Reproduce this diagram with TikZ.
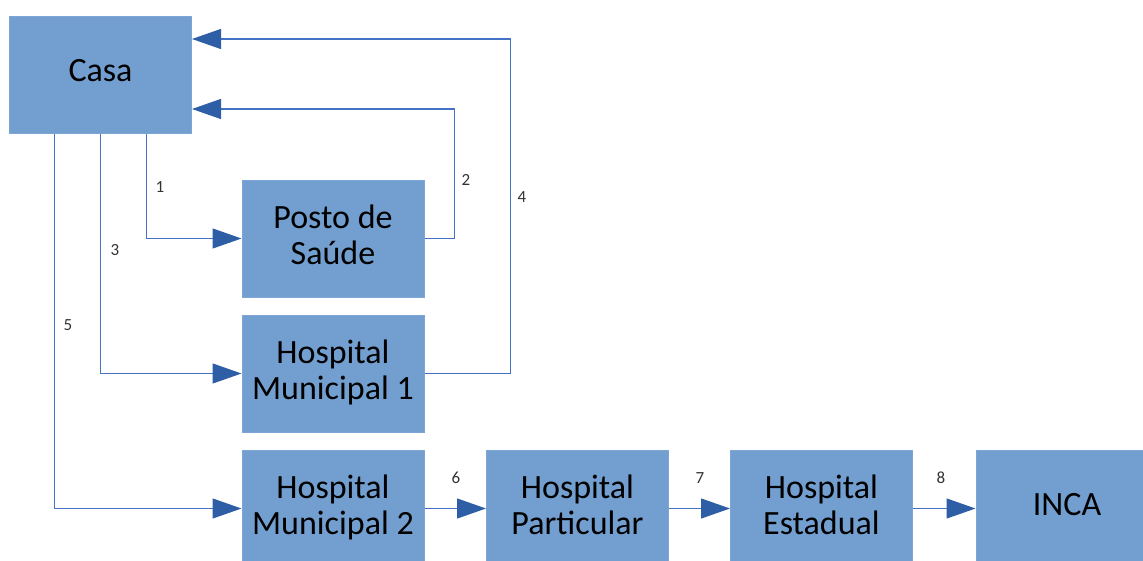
\documentclass[tikz,border=0pt]{standalone}
\usepackage{fontspec}
\setmainfont{Carlito}
\usetikzlibrary{arrows.meta}

\definecolor{boxblue}{RGB}{114,159,207}
\definecolor{edgeblue}{RGB}{125,165,214}
\definecolor{lineblue}{RGB}{68,114,196}
\definecolor{tipblue}{RGB}{46,94,166}

\tikzset{
	place/.style={rectangle, fill=boxblue, draw=edgeblue, line width=1pt,
		minimum width=182pt, minimum height=117pt, inner sep=0pt,
		align=center, font=\fontsize{34}{36}\selectfont,
		text height=13pt, text depth=0pt},
	twoline/.style={text height=51pt, text depth=0pt},
	conn/.style={draw=lineblue, line width=1.2pt,
		-{Triangle[length=29pt,width=20pt,color=tipblue]}},
	num/.style={font=\fontsize{17}{17}\selectfont, text=black!80}
}

\begin{document}
\begin{tikzpicture}[x=1pt,y=-1pt]
		\useasboundingbox (0,0) rectangle (1143,560);

		\node[place] (casa) at (100.5, 74.5) {Casa};
		\node[place, twoline] (posto) at (333, 238.5) {Posto de\\Saúde};
		\node[place, twoline] (hm1) at (333, 373.5) {Hospital\\Municipal 1};
		\node[place, twoline] (hm2) at (333, 508.5) {Hospital\\Municipal 2};
		\node[place, twoline] (part) at (577.5, 508.5) {Hospital\\Particular};
		\node[place, twoline] (est) at (821.5, 508.5) {Hospital\\Estadual};
		\node[place] (inca) at (1067, 508.5) {INCA};

		\draw[conn] ([xshift=46pt]casa.south) |- (posto.west);
		\draw[conn] (posto.east) -- ++(30,0) |- ([yshift=-34.5pt]casa.east);
		\draw[conn] (casa.south) |- (hm1.west);
		\draw[conn] (hm1.east) -- ++(86,0) |- ([yshift=35.5pt]casa.east);
		\draw[conn] ([xshift=-46pt]casa.south) |- (hm2.west);
		\draw[conn] (hm2) -- (part);
		\draw[conn] (part) -- (est);
		\draw[conn] (est) -- (inca);

		\node[num] (n1) at (160, 187) {1};
		\node[num] (n2) at (466, 180) {2};
		\node[num] (n3) at (115, 250) {3};
		\node[num] (n4) at (522, 197) {4};
		\node[num] (n5) at (68, 325) {5};
		\node[num] (n6) at (456, 478) {6};
		\node[num] (n7) at (700, 478) {7};
		\node[num] (n8) at (941, 478) {8};
	\end{tikzpicture}
\end{document}
